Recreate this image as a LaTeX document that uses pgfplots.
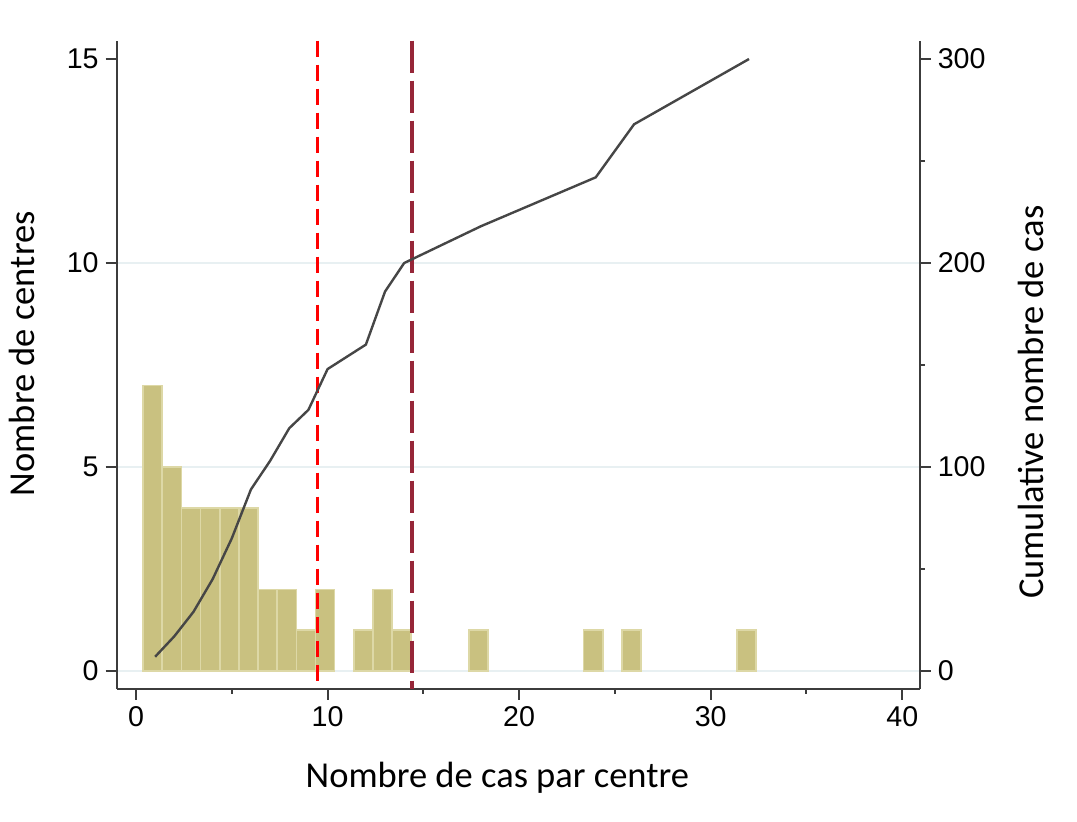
\documentclass[border=0pt]{standalone}
\usepackage{pgfplots}
\pgfplotsset{compat=1.18}
\usepackage{fontspec}
\setmainfont{Carlito}
\newfontfamily\arialf{Liberation Sans}
\definecolor{barfill}{RGB}{201,193,128}
\definecolor{baredge}{RGB}{221,216,166}
\definecolor{gridc}{RGB}{232,240,242}
\definecolor{axc}{RGB}{60,60,60}
\definecolor{linec}{RGB}{70,70,70}
\definecolor{maroonc}{RGB}{150,38,56}
\newcommand{\labfont}{\fontsize{18.25}{22}\selectfont}
\pgfplotsset{
  common/.style={
    scale only axis, width=401.5pt, height=324pt,
    at={(0pt,0pt)}, anchor=south west,
    xmin=-1.007, xmax=40.91,
    axis line style={axc, line width=1pt},
    tick align=outside,
    major tick length=5.5pt, minor tick length=2.5pt,
    every tick/.style={axc, line width=1pt},
    tick label style={font=\arialf\fontsize{14.3}{16}\selectfont},
    /pgf/number format/assume math mode=true,
  }
}
\begin{document}
\begin{tikzpicture}
\useasboundingbox (-58.35pt,-66.15pt) rectangle (480.15pt,344.35pt);
\begin{axis}[common,
  ymin=-0.434, ymax=15.449,
  axis x line*=bottom, axis y line*=left,
  xtick={0,10,20,30,40}, minor xtick={5,15,25,35},
  ytick={0,5,10}, extra y ticks={15}, extra y tick style={grid=none},
  ymajorgrids, grid style={gridc, line width=1pt},
  xlabel={Nombre de cas par centre},
  ylabel={Nombre de centres},
  every axis x label/.style={at={(axis description cs:0.474,-0.1517)}, anchor=base, font=\labfont},
  every axis y label/.style={at={(axis description cs:-0.10174,0.517)}, anchor=base, rotate=90, font=\labfont},
]
\addplot[ybar, bar width=1, bar shift=0pt, fill=barfill, draw=baredge, line width=0.8pt]
  coordinates {(0.87,7) (1.87,5) (2.87,4) (3.87,4) (4.87,4) (5.87,4) (6.87,2) (7.87,2) (8.87,1) (9.87,2) (11.87,1) (12.87,2) (13.87,1) (17.87,1) (23.87,1) (25.87,1) (31.87,1)};
\addplot[red, line width=1.5pt, dash pattern=on 8pt off 4pt] coordinates {(9.47,15.449) (9.47,-0.434)};
\addplot[maroonc, line width=1.6pt, dash pattern=on 16pt off 4pt] coordinates {(14.41,15.449) (14.41,-0.434)};
\end{axis}
\begin{axis}[common,
  ymin=-8.68, ymax=308.98,
  axis x line=none, axis y line*=right,
  ytick={0,100,200,300}, minor ytick={50,150,250},
  ylabel={Cumulative nombre de cas},
  every axis y label/.style={at={(axis description cs:1.15355,0.442)}, anchor=base, rotate=90, font=\labfont},
]
\addplot[linec, line width=1.2pt] coordinates {(1,7) (2,17) (3,29) (4,45) (5,65) (6,89) (7,103) (8,119) (9,128) (10,148) (12,160) (13,186) (14,200) (18,218) (24,242) (26,268) (32,300)};
\end{axis}
\end{tikzpicture}
\end{document}
